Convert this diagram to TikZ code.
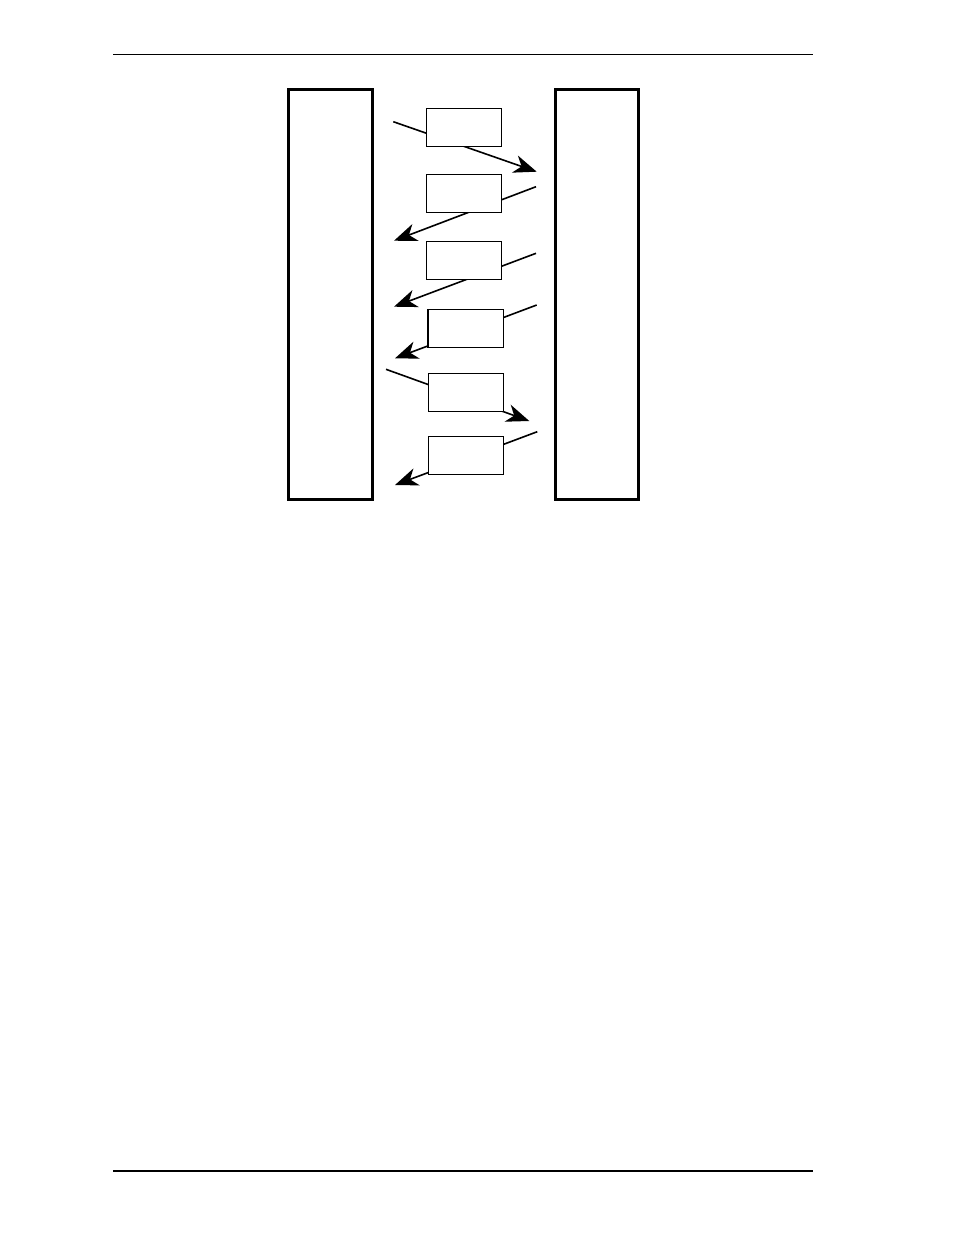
\documentclass[tikz,border=0pt]{standalone}
\usetikzlibrary{arrows.meta}
\tikzset{
	host/.style={draw, line width=3pt, inner sep=0pt, minimum width=83.5pt, minimum height=410pt},
	msgbox/.style={draw, fill=white, line width=1pt, inner sep=0pt, minimum width=75.5pt, minimum height=38pt},
	msg/.style={line width=1.6pt, -{Stealth[length=23pt, width=18pt, inset=7pt]}}
}

\begin{document}
\begin{tikzpicture}[x=1pt, y=-1pt]
		%%%%% START %%%%%
		\useasboundingbox (0, 0) rectangle (954, 1235);
		
		\draw[line width=1pt] (113, 54) -- (813, 54);
		\draw[line width=2pt] (113, 1171) -- (813, 1171);
		
		\node[host] (left) at (330.4, 294.9) {};
		\node[host] (right) at (597, 294.9) {};
		
		\coordinate (s1) at (393.3, 121.7); \coordinate (e1) at (536.7, 171.7);
		\coordinate (s2) at (536, 186.7);   \coordinate (e2) at (394, 240.7);
		\coordinate (s3) at (536, 253.3);   \coordinate (e3) at (394, 306.7);
		\coordinate (s4) at (536.7, 305);   \coordinate (e4) at (395, 358.3);
		\coordinate (s5) at (386, 369.3);   \coordinate (e5) at (529.3, 421);
		\coordinate (s6) at (537.3, 431.7); \coordinate (e6) at (395, 485);
		
		\draw[msg] (s1) -- (e1);
		\draw[msg] (s2) -- (e2);
		\draw[msg] (s3) -- (e3);
		\draw[msg] (s4) -- (e4);
		\draw[msg] (s5) -- (e5);
		\draw[msg] (s6) -- (e6);
		
		\node[msgbox] (box1) at (463.9, 127.5) {};
		\node[msgbox] (box2) at (463.9, 193.3) {};
		\node[msgbox] (box3) at (463.9, 260.3) {};
		\node[msgbox, line width=1.5pt] (box4) at (465.8, 328.7) {};
		\node[msgbox] (box5) at (465.8, 392.3) {};
		\node[msgbox] (box6) at (465.8, 455) {};
		
		%%%%% END %%%%%
\end{tikzpicture}
\end{document}
